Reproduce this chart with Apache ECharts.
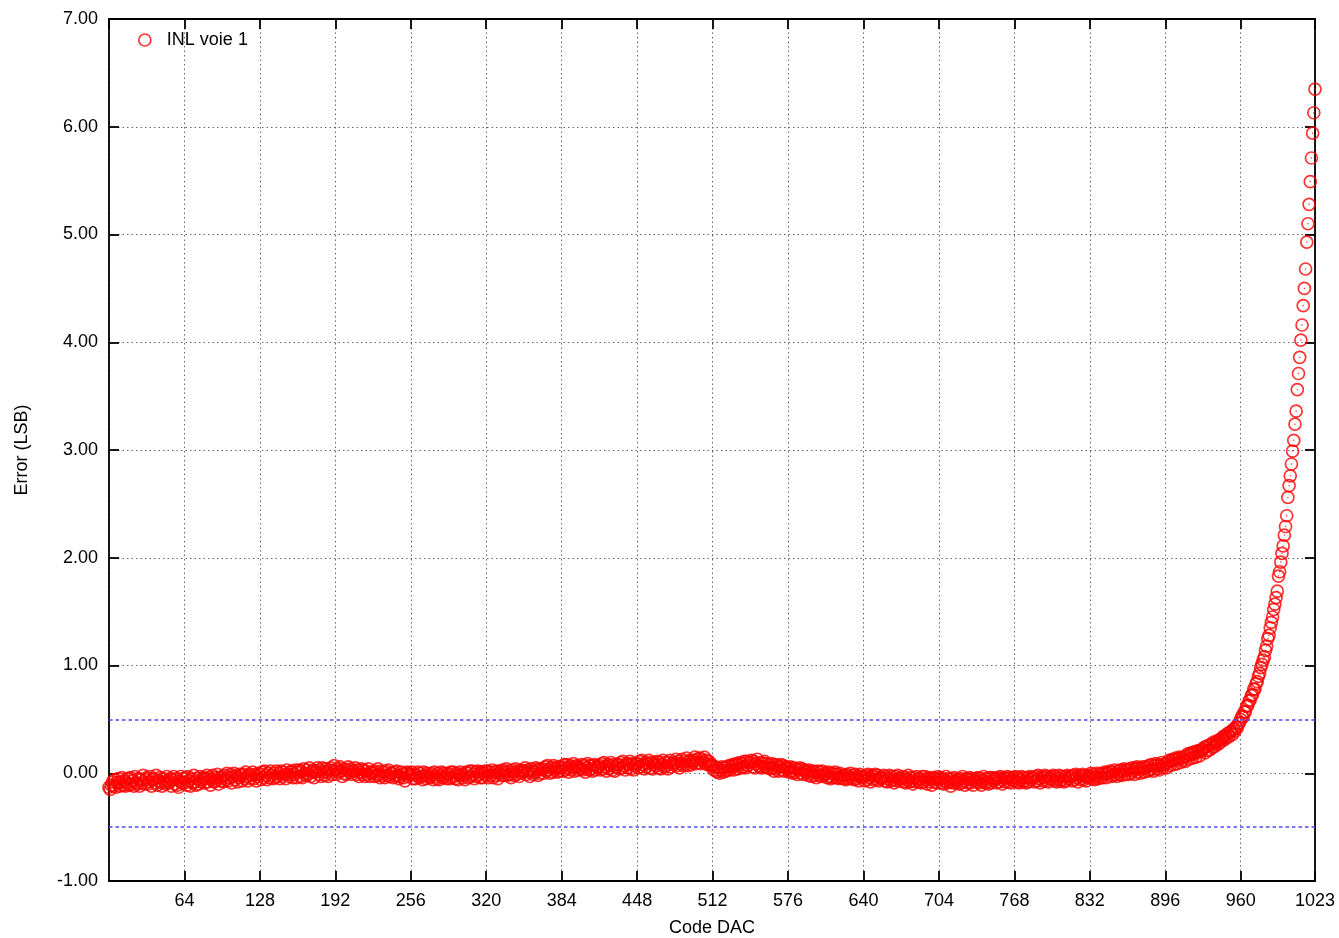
<!DOCTYPE html>
<html>
<head>
<meta charset="utf-8">
<script src="https://cdn.jsdelivr.net/npm/echarts@6/dist/echarts.min.js"></script>
<style>
html,body{margin:0;padding:0;background:#fff;}
#chart{width:1339px;height:938px;}
</style>
</head>
<body>
<div id="chart"></div>
<script>
// INL error (LSB) for DAC codes 0..1023
const seriesName = 'INL voie 1';
const xTitle = 'Code DAC';
const yTitle = 'Error (LSB)';
const limits = [0.5, -0.5];
const inl = [
-0.13,-0.15,-0.11,-0.08,-0.12,-0.06,-0.13,-0.09,-0.05,-0.12,-0.08,-0.04,-0.11,-0.07,-0.12,-0.09,
-0.05,-0.11,-0.04,-0.10,-0.07,-0.12,-0.03,-0.09,-0.10,-0.05,-0.12,-0.06,-0.09,-0.02,-0.10,-0.06,
-0.04,-0.10,-0.08,-0.03,-0.12,-0.06,-0.05,-0.09,-0.02,-0.11,-0.07,-0.04,-0.09,-0.12,-0.05,-0.08,
-0.10,-0.03,-0.07,-0.09,-0.05,-0.12,-0.06,-0.03,-0.10,-0.05,-0.11,-0.13,-0.07,-0.03,-0.09,-0.05,
-0.09,-0.04,-0.11,-0.03,-0.07,-0.12,-0.05,-0.09,-0.02,-0.08,-0.11,-0.05,-0.10,-0.03,-0.08,-0.06,
-0.04,-0.09,-0.05,-0.02,-0.08,-0.04,-0.11,-0.06,-0.02,-0.08,-0.04,-0.07,-0.01,-0.10,-0.04,-0.07,
-0.03,-0.08,-0.02,-0.06,0.00,-0.07,-0.04,-0.01,-0.09,-0.03,0.00,-0.06,-0.02,-0.08,-0.04,-0.01,
-0.02,-0.07,-0.01,-0.05,0.01,-0.03,-0.07,-0.01,-0.05,-0.02,0.01,-0.05,-0.01,-0.07,-0.03,0.00,
-0.01,-0.06,0.01,-0.04,0.02,-0.02,-0.06,0.00,-0.04,0.02,-0.02,-0.05,0.00,-0.04,0.02,-0.03,
0.00,-0.05,0.02,-0.03,0.01,-0.01,-0.05,0.03,-0.01,-0.03,0.01,0.02,-0.04,-0.01,0.03,-0.04,
0.01,0.03,-0.03,0.02,-0.04,0.04,0.00,-0.02,0.03,-0.01,0.05,-0.03,0.01,0.03,-0.04,0.01,
0.02,0.05,-0.01,0.03,-0.03,0.05,0.01,-0.02,0.04,0.01,-0.03,0.03,0.05,-0.01,0.02,0.07,
0.03,-0.01,0.04,0.01,0.06,0.02,-0.03,0.04,0.00,-0.01,0.03,0.06,0.01,0.04,-0.01,0.02,
0.02,0.05,-0.01,0.03,-0.03,0.01,0.04,-0.01,0.03,-0.03,0.02,-0.01,0.04,-0.03,0.01,0.00,
0.01,-0.03,0.02,-0.02,0.04,-0.01,-0.04,0.02,-0.02,0.01,-0.04,0.02,-0.02,0.03,-0.03,0.00,
0.00,-0.04,0.01,-0.03,0.02,-0.02,-0.05,-0.03,0.01,-0.01,-0.04,-0.07,0.00,0.01,-0.03,-0.01,
-0.01,0.01,-0.05,-0.01,-0.05,-0.02,0.01,-0.04,0.00,-0.03,-0.06,0.01,-0.02,-0.05,0.00,-0.03,
-0.04,0.00,-0.02,-0.06,0.01,-0.03,-0.05,0.00,-0.06,-0.02,0.01,-0.04,0.00,-0.03,-0.05,0.00,
-0.01,-0.05,0.01,-0.04,0.01,-0.02,-0.05,0.00,-0.06,-0.02,0.01,-0.01,-0.04,-0.02,-0.06,0.01,
0.00,-0.04,0.02,-0.03,0.02,-0.01,-0.05,0.01,-0.03,0.02,-0.01,-0.04,0.01,-0.04,0.00,0.02,
-0.02,0.02,-0.04,0.01,-0.02,0.03,-0.04,0.01,-0.02,0.02,-0.05,0.00,0.02,-0.02,0.03,-0.02,
0.01,0.04,-0.02,0.02,-0.01,-0.04,0.03,0.01,-0.02,0.04,-0.01,0.02,-0.03,0.03,0.00,0.02,
0.02,0.05,-0.01,0.03,0.01,-0.03,0.04,0.02,-0.01,0.01,0.05,0.03,-0.02,0.04,0.00,0.03,
0.04,0.00,0.06,0.02,0.07,0.03,0.00,0.05,0.01,0.07,0.03,0.05,0.01,0.06,0.02,0.05,
0.06,0.02,0.08,0.03,0.08,0.05,0.01,0.07,0.03,0.05,0.09,0.02,0.06,0.07,0.03,0.05,
0.04,0.08,0.03,0.07,0.01,0.05,0.09,0.03,0.07,0.04,0.02,0.07,0.08,0.03,0.06,0.05,
0.07,0.03,0.09,0.04,0.10,0.06,0.02,0.08,0.04,0.07,0.10,0.03,0.08,0.02,0.06,0.08,
0.08,0.04,0.10,0.05,0.11,0.07,0.03,0.09,0.05,0.08,0.11,0.04,0.09,0.03,0.07,0.09,
0.09,0.05,0.11,0.06,0.12,0.08,0.04,0.10,0.06,0.09,0.12,0.05,0.10,0.04,0.08,0.10,
0.07,0.11,0.05,0.10,0.04,0.08,0.12,0.06,0.10,0.07,0.04,0.10,0.12,0.06,0.09,0.08,
0.10,0.13,0.07,0.11,0.05,0.09,0.13,0.07,0.11,0.08,0.14,0.07,0.11,0.12,0.08,0.10,
0.12,0.15,0.09,0.13,0.10,0.14,0.09,0.13,0.11,0.15,0.09,0.12,0.08,0.11,0.07,0.08,
0.07,0.03,0.06,0.02,0.01,0.05,0.00,0.03,0.06,0.01,0.05,0.02,0.06,0.03,0.07,0.03,
0.06,0.08,0.03,0.07,0.09,0.04,0.08,0.10,0.05,0.09,0.06,0.11,0.05,0.11,0.07,0.10,
0.10,0.12,0.06,0.11,0.05,0.09,0.13,0.07,0.06,0.10,0.05,0.09,0.11,0.06,0.09,0.05,
0.08,0.04,0.09,0.05,0.02,0.08,0.04,0.07,0.02,0.06,0.08,0.03,0.07,0.02,0.06,0.04,
0.05,0.01,0.06,0.02,0.00,0.05,0.01,0.04,-0.01,0.03,0.05,0.00,0.04,-0.01,0.03,0.01,
0.02,-0.02,0.03,0.00,-0.03,0.02,-0.02,0.01,-0.04,0.02,-0.02,0.01,-0.03,0.02,-0.02,-0.01,
0.00,-0.04,0.01,-0.03,-0.05,0.00,-0.04,-0.01,0.01,-0.04,-0.01,-0.05,0.00,-0.04,-0.02,-0.05,
-0.02,-0.06,-0.01,-0.05,-0.03,0.00,-0.05,-0.02,-0.06,-0.01,-0.05,-0.03,-0.07,-0.01,-0.04,-0.03,
-0.03,-0.07,-0.02,-0.06,-0.01,-0.04,-0.08,-0.02,-0.06,-0.03,-0.01,-0.06,-0.02,-0.07,-0.04,-0.05,
-0.04,-0.02,-0.07,-0.03,-0.08,-0.05,-0.02,-0.07,-0.03,-0.06,-0.09,-0.03,-0.07,-0.02,-0.05,-0.07,
-0.05,-0.03,-0.08,-0.04,-0.09,-0.06,-0.02,-0.08,-0.04,-0.07,-0.10,-0.04,-0.08,-0.03,-0.06,-0.08,
-0.05,-0.09,-0.03,-0.08,-0.03,-0.06,-0.10,-0.04,-0.08,-0.05,-0.11,-0.04,-0.08,-0.05,-0.09,-0.03,
-0.06,-0.04,-0.09,-0.05,-0.10,-0.07,-0.03,-0.09,-0.05,-0.08,-0.12,-0.05,-0.09,-0.04,-0.07,-0.09,
-0.06,-0.10,-0.05,-0.09,-0.03,-0.07,-0.11,-0.05,-0.09,-0.06,-0.04,-0.09,-0.05,-0.11,-0.07,-0.05,
-0.08,-0.04,-0.09,-0.05,-0.11,-0.07,-0.03,-0.09,-0.05,-0.08,-0.10,-0.04,-0.09,-0.04,-0.07,-0.05,
-0.05,-0.09,-0.04,-0.08,-0.03,-0.06,-0.10,-0.04,-0.08,-0.05,-0.03,-0.08,-0.04,-0.09,-0.06,-0.04,
-0.07,-0.03,-0.08,-0.04,-0.09,-0.06,-0.03,-0.08,-0.04,-0.07,-0.09,-0.04,-0.08,-0.03,-0.06,-0.04,
-0.04,-0.08,-0.03,-0.07,-0.02,-0.05,-0.09,-0.03,-0.07,-0.04,-0.02,-0.07,-0.03,-0.08,-0.05,-0.03,
-0.06,-0.02,-0.07,-0.03,-0.08,-0.05,-0.02,-0.07,-0.03,-0.06,-0.08,-0.03,-0.07,-0.02,-0.05,-0.03,
-0.03,-0.07,-0.02,-0.06,-0.01,-0.04,-0.08,-0.02,-0.06,-0.03,-0.01,-0.06,-0.02,-0.07,-0.04,-0.02,
-0.04,0.00,-0.05,-0.01,-0.06,-0.03,0.00,-0.05,-0.01,-0.04,0.00,-0.04,-0.01,0.01,-0.04,0.00,
0.00,0.02,-0.03,0.01,-0.02,0.03,-0.01,-0.03,0.02,-0.01,0.03,-0.02,0.02,0.04,-0.01,0.03,
0.03,-0.01,0.04,0.00,0.05,0.02,-0.01,0.04,0.06,0.01,0.05,0.00,0.04,0.06,0.01,0.05,
0.06,0.02,0.07,0.03,0.08,0.04,0.02,0.07,0.09,0.04,0.08,0.03,0.07,0.10,0.05,0.08,
0.09,0.05,0.10,0.12,0.07,0.11,0.13,0.08,0.12,0.14,0.09,0.13,0.15,0.10,0.14,0.12,
0.15,0.11,0.16,0.18,0.13,0.17,0.19,0.14,0.18,0.20,0.15,0.19,0.21,0.16,0.20,0.22,
0.22,0.24,0.19,0.25,0.21,0.26,0.22,0.27,0.24,0.29,0.25,0.28,0.30,0.27,0.31,0.29,
0.32,0.34,0.31,0.35,0.33,0.37,0.34,0.38,0.39,0.36,0.41,0.39,0.43,0.42,0.46,0.47,
0.50,0.53,0.52,0.57,0.57,0.62,0.63,0.67,0.68,0.72,0.73,0.78,0.78,0.83,0.85,0.90,
0.93,0.98,1.01,1.05,1.08,1.14,1.18,1.25,1.28,1.35,1.40,1.45,1.52,1.57,1.63,1.69,
1.83,1.87,1.96,2.04,2.11,2.21,2.29,2.39,2.56,2.67,2.76,2.87,2.99,3.09,3.24,3.36,
3.56,3.71,3.86,4.02,4.16,4.34,4.50,4.68,4.93,5.10,5.28,5.49,5.71,5.94,6.13,6.35
];
const firstCode = 0;

const points = inl.map((v, i) => [firstCode + i, v]);
const FONT = 'Liberation Sans';
const FS = 18;
const gridLine = { show: true, lineStyle: { color: '#666', width: 1, type: [1.5, 3] } };
const axisLineStyle = { show: true, onZero: false, lineStyle: { color: '#000', width: 1.8 } };
const tickStyle = { show: true, inside: true, length: 10, lineStyle: { color: '#000', width: 1.8 } };

const chart = echarts.init(document.getElementById('chart'), null, { renderer: 'canvas' });
chart.setOption({
  animation: false,
  backgroundColor: '#fff',
  textStyle: { fontFamily: FONT },
  grid: { left: 109, right: 24, top: 19, bottom: 57, containLabel: false, outerBoundsMode: 'none' },
  legend: {
    left: 133, top: 26,
    itemWidth: 34, itemHeight: 12,
    textStyle: { fontFamily: FONT, fontSize: FS, color: '#000' },
    data: [{ name: seriesName, icon: 'circle',
      itemStyle: { color: 'transparent', borderColor: '#ff0000', borderWidth: 1.7 } }]
  },
  xAxis: [
    {
      type: 'value', min: 0, max: 1023, interval: 64, position: 'bottom',
      name: xTitle, nameLocation: 'middle', nameGap: 38,
      nameTextStyle: { fontFamily: FONT, fontSize: FS, color: '#000' },
      axisLine: axisLineStyle, axisTick: tickStyle,
      axisLabel: { showMinLabel: false, margin: 11, fontFamily: FONT, fontSize: FS, color: '#000',
        formatter: v => String(v) },
      splitLine: gridLine
    },
    {
      type: 'value', min: 0, max: 1023, interval: 64, position: 'top',
      axisLine: axisLineStyle, axisTick: tickStyle,
      axisLabel: { show: false }, splitLine: { show: false }
    }
  ],
  yAxis: [
    {
      type: 'value', min: -1, max: 7, interval: 1, position: 'left',
      name: yTitle, nameLocation: 'middle', nameGap: 78, nameRotate: 90,
      nameTextStyle: { fontFamily: FONT, fontSize: FS, color: '#000' },
      axisLine: axisLineStyle, axisTick: tickStyle,
      axisLabel: { margin: 11, fontFamily: FONT, fontSize: FS, color: '#000',
        formatter: v => v.toFixed(2) },
      splitLine: gridLine
    },
    {
      type: 'value', min: -1, max: 7, interval: 1, position: 'right',
      axisLine: axisLineStyle, axisTick: tickStyle,
      axisLabel: { show: false }, splitLine: { show: false }
    }
  ],
  series: [
    {
      name: seriesName, type: 'scatter', data: points,
      symbol: 'circle', symbolSize: 12,
      itemStyle: { color: 'transparent', borderColor: '#ff0000', borderWidth: 1.7 },
      emphasis: { disabled: true },
      markLine: {
        silent: true, symbol: 'none', label: { show: false },
        lineStyle: { color: '#4a4aff', width: 1.5, type: [3.5, 3] },
        data: limits.map(v => ({ yAxis: v }))
      },
      z: 3
    },
    {
      name: 'centre', type: 'scatter', data: points,
      symbol: 'circle', symbolSize: 1.5, silent: true,
      itemStyle: { color: '#ff0000' }, z: 4
    }
  ]
});
</script>
</body>
</html>
